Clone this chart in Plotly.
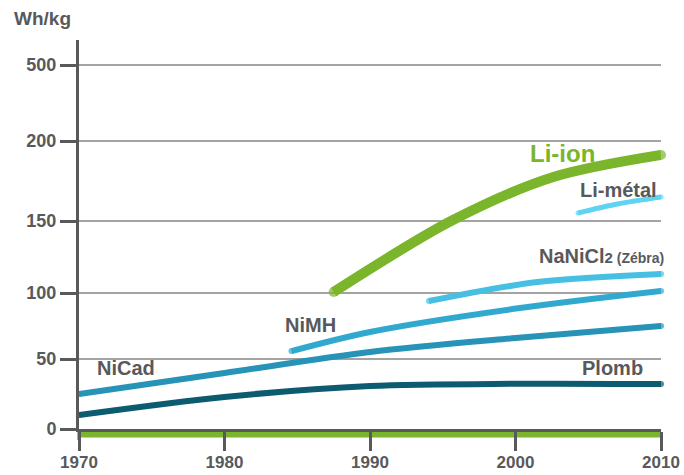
import numpy as np
import plotly.graph_objects as go

# ---- axis scale (hand-drawn, non-uniform value axis) ----
TICK_VALS = [0, 50, 100, 150, 200, 500]
TICK_POS = [0, 70, 136, 208, 288, 364]   # position of each tick on the drawn scale
Y_TOP = 389
YEAR_TICKS = [1970, 1980, 1990, 2000, 2010]

# ---- series (Wh/kg) ----
plomb_years = [1970, 1980, 1990, 2000, 2010]
plomb_vals = [10, 22.9, 30.7, 32.3, 32.1]

nicad_years = [1970, 1980, 1990, 2000, 2010]
nicad_vals = [25, 40, 55.3, 65.9, 75]

nimh_years = [1984.6, 1990, 2000.3, 2010]
nimh_vals = [56, 70.5, 88.6, 101.4]

nanicl_years = [1994.05, 2001.5, 2010]
nanicl_vals = [93.9, 107.6, 113.2]

liion_years = [1987.5, 1995.7, 2002.6, 2010]
liion_vals = [100.7, 150.6, 177.5, 191.3]

limetal_years = [2004.3, 2007, 2010]
limetal_vals = [155, 160.6, 165]

GRAY = "#58595b"
GREEN = "#7ab52b"
FONT = "Liberation Sans, Arial, sans-serif"


def ypos(v):
    return np.interp(v, TICK_VALS, TICK_POS)


series = [
    (plomb_years, plomb_vals, "#0d5b70", 6),
    (nicad_years, nicad_vals, "#2793b6", 6),
    (nimh_years, nimh_vals, "#31a9ce", 6),
    (nanicl_years, nanicl_vals, "#46bfe2", 6),
    (limetal_years, limetal_vals, "#5ed4f2", 5),
    (liion_years, liion_vals, GREEN, 10),
]

fig = go.Figure()
for xs, vs, col, w in series:
    n = len(xs)
    sizes = [w] + [0] * (n - 2) + [w]
    fig.add_trace(go.Scatter(
        x=xs, y=ypos(vs), mode="lines+markers",
        line=dict(color=col, width=w, shape="spline", smoothing=0.9),
        marker=dict(size=sizes, color=col, line=dict(width=0)),
        cliponaxis=False, hoverinfo="skip", showlegend=False,
    ))

labels = [
    ("NiCad", 1971.1, 43.6, GRAY, 20),
    ("NiMH", 1984.0, 75.8, GRAY, 20),
    ("NaNiCl<span style='font-size:15px'>2</span><span style='font-size:14px'> (Zébra)</span>",
     2001.5, 125.7, GRAY, 20),
    ("Li-métal", 2004.3, 169.4, GRAY, 20),
    ("Li-ion", 2000.86, 192.5, GREEN, 24),
    ("Plomb", 2004.4, 43.6, GRAY, 20),
]
for txt, x, v, col, sz in labels:
    fig.add_annotation(x=x, y=float(ypos(v)), text=txt, showarrow=False,
                       xanchor="left", yanchor="middle",
                       font=dict(family=FONT, size=sz, color=col, weight="bold"))

fig.add_annotation(xref="paper", yref="paper", x=-67 / 582, y=1.0 + 22 / 389,
                   text="Wh/kg", showarrow=False, xanchor="left", yanchor="middle",
                   font=dict(family=FONT, size=19, color=GRAY, weight="bold"))

# green base band and y-axis extension below zero
fig.add_shape(type="rect", xref="x", yref="paper", x0=1970, x1=2010,
              y0=-1.5 / 389, y1=-8.5 / 389, fillcolor=GREEN, line=dict(width=0),
              layer="below")
fig.add_shape(type="line", xref="paper", yref="paper", x0=0, x1=0,
              y0=0, y1=-11 / 389, line=dict(color=GRAY, width=3), layer="below")

fig.update_xaxes(
    range=[1970, 2010], tickvals=YEAR_TICKS, ticktext=[str(t) for t in YEAR_TICKS],
    showgrid=False, zeroline=False, showline=True, linecolor=GRAY, linewidth=3,
    ticks="outside", ticklen=19, tickwidth=2.5, tickcolor=GRAY, automargin=False,
    ticklabelstandoff=-3,
    tickfont=dict(family=FONT, size=17, color=GRAY, weight="bold"),
)
fig.update_yaxes(
    range=[0, Y_TOP], tickvals=TICK_POS, ticktext=[str(t) for t in TICK_VALS],
    showgrid=True, gridcolor="#a3a3a3", gridwidth=2, zeroline=False,
    showline=True, linecolor=GRAY, linewidth=3, automargin=False,
    ticks="outside", ticklen=16, tickwidth=2.5, tickcolor=GRAY,
    tickfont=dict(family=FONT, size=18, color=GRAY, weight="bold"),
)
fig.update_layout(
    width=684, height=475, margin=dict(l=79, r=23, t=40, b=46),
    paper_bgcolor="white", plot_bgcolor="white", hovermode=False,
)
fig.write_html("out.html", config={"displayModeBar": False},
               post_script="document.body.style.margin='0';document.body.style.overflow='hidden';")
